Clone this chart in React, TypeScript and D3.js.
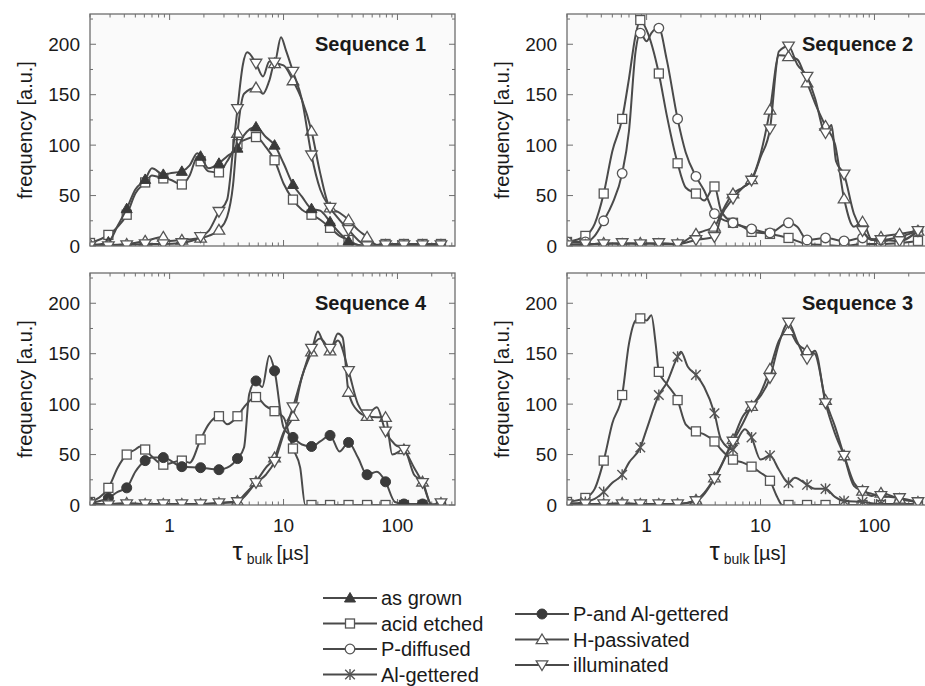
import React from 'react';
import * as d3 from 'd3';

type Pt = [number, number];

// marker positions (x values where symbols are drawn)
const GRID = [0.2, 0.29, 0.42, 0.61, 0.88, 1.28, 1.87, 2.71, 3.94, 5.73, 8.34, 12.1, 17.6, 25.6, 37.2, 54.1, 78.6, 114, 166, 241];
const X_TICK_LABELS = [1, 10, 100];
const Y_TICKS = [0, 50, 100, 150, 200];
const Y_MINOR = [25, 75, 125, 175, 225];

// ---------- Sequence 1 ----------
const s1AsGrown: Pt[] = [[0.2,0],[0.29,4],[0.35,20],[0.42,37],[0.5,56],[0.61,66],[0.7,77],[0.88,71],[1.0,72],[1.28,74],[1.5,80],[1.75,92],[1.87,89],[2.2,77],[2.71,82],[3.2,89],[3.94,97],[4.5,110],[5.73,118],[7,108],[8.34,100],[10,82],[12.1,61],[14.5,49],[17.6,37],[21,35],[25.6,24],[31,13],[37.2,5],[45,1],[54.1,0],[78.6,0],[114,0],[166,0],[241,0]];
const s1Acid: Pt[] = [[0.2,3],[0.29,11],[0.35,19],[0.42,31],[0.5,52],[0.61,63],[0.7,70],[0.88,67],[1.0,66],[1.28,61],[1.5,70],[1.75,88],[1.87,84],[2.2,74],[2.71,73],[3.2,84],[3.94,101],[4.5,105],[5.73,108],[7,98],[8.34,85],[10,62],[12.1,46],[14.5,36],[17.6,31],[21,26],[25.6,18],[31,10],[37.2,6],[45,1],[54.1,0],[78.6,2],[114,2],[166,2],[241,2]];
const s1HPass: Pt[] = [[0.2,2],[0.29,1],[0.42,2],[0.61,5],[0.88,9],[1.0,5],[1.28,6],[1.87,8],[2.2,10],[2.71,16],[3.2,29],[3.6,60],[3.94,112],[4.5,151],[5.73,157],[6.6,151],[7.5,164],[8.34,181],[10,179],[12.1,164],[14.5,145],[17.6,114],[21,72],[25.6,38],[31,33],[37.2,26],[45,16],[54.1,9],[66,1],[78.6,1],[114,1],[166,1],[241,1]];
const s1Illum: Pt[] = [[0.2,0],[0.29,0],[0.42,1],[0.61,2],[0.88,2],[1.28,3],[1.87,9],[2.2,15],[2.71,34],[3.2,46],[3.6,95],[3.94,136],[4.4,180],[4.8,192],[5.73,181],[6.6,168],[7.5,183],[8.34,182],[9.5,207],[10.5,194],[12.1,173],[14.5,145],[17.6,90],[21,56],[25.6,38],[31,26],[37.2,16],[45,6],[54.1,0],[78.6,1],[114,1],[166,1],[241,1]];

// ---------- Sequence 2 ----------
const s2Acid: Pt[] = [[0.2,4],[0.29,10],[0.35,22],[0.42,52],[0.5,94],[0.61,126],[0.7,166],[0.8,209],[0.88,224],[1.0,214],[1.28,171],[1.5,130],[1.87,82],[2.2,58],[2.71,52],[3.2,45],[3.94,59],[4.5,35],[5.73,23],[7,19],[8.34,14],[12.1,12],[17.6,8],[25.6,2],[37.2,1],[54.1,0],[78.6,2],[114,2],[166,3],[241,5]];
const s2PDiff: Pt[] = [[0.2,4],[0.29,4],[0.35,10],[0.42,25],[0.5,42],[0.61,72],[0.7,114],[0.8,193],[0.88,211],[1.0,203],[1.1,211],[1.28,216],[1.5,185],[1.87,126],[2.2,93],[2.71,69],[3.2,55],[3.94,32],[4.5,27],[5.73,23],[8.34,17],[12.1,13],[17.6,23],[21,19],[25.6,6],[37.2,8],[54.1,5],[78.6,8],[114,6],[166,9],[241,15]];
const s2HPass: Pt[] = [[0.2,2],[0.29,1],[0.42,3],[0.61,2],[0.88,3],[1.28,2],[1.87,2],[2.71,12],[3.2,15],[3.94,19],[4.5,32],[5.73,52],[7,58],[8.34,66],[10,91],[12.1,135],[14.5,189],[17.6,188],[21,185],[25.6,162],[30,142],[37.2,119],[45,101],[54.1,47],[66,19],[78.6,24],[95,6],[114,9],[166,12],[241,15]];
const s2Illum: Pt[] = [[0.2,1],[0.29,2],[0.42,2],[0.61,3],[0.88,2],[1.28,3],[1.87,2],[2.71,6],[3.94,9],[4.5,29],[5.73,47],[7,58],[8.34,65],[10,88],[12.1,116],[14.5,193],[17.6,198],[21,180],[25.6,168],[30,147],[37.2,112],[42,120],[46,84],[54.1,71],[66,32],[78.6,15],[95,6],[114,6],[166,5],[241,15]];

// ---------- Sequence 4 ----------
const s4Acid: Pt[] = [[0.2,3],[0.29,17],[0.35,37],[0.42,50],[0.5,55],[0.55,58],[0.61,55],[0.7,48],[0.88,40],[1.28,44],[1.5,42],[1.87,65],[2.2,80],[2.71,88],[3.2,80],[3.94,88],[4.5,97],[5.73,107],[7,98],[8.34,93],[10,87],[12.1,56],[14,37],[15.5,0],[17.6,0],[25.6,0],[37.2,0],[54.1,0],[78.6,0],[114,0],[166,0],[241,0]];
const s4PAl: Pt[] = [[0.2,2],[0.29,7],[0.35,13],[0.42,17],[0.5,33],[0.61,44],[0.7,47],[0.88,47],[1.28,38],[1.87,37],[2.71,35],[3.2,37],[3.94,46],[4.5,57],[5.0,110],[5.73,123],[6.5,117],[7.5,148],[8.34,133],[10,77],[12.1,67],[14.5,60],[17.6,58],[21,63],[25.6,69],[31,53],[37.2,62],[45,47],[54.1,30],[66,33],[78.6,23],[95,3],[114,1],[166,1],[241,0]];
const s4HPass: Pt[] = [[0.2,1],[0.29,1],[0.42,2],[0.61,1],[0.88,1],[1.28,1],[1.87,1],[2.71,2],[3.94,4],[4.5,10],[5.73,23],[7,37],[8.34,47],[10,72],[12.1,88],[14.5,127],[17.6,152],[20,172],[22,163],[25.6,153],[30,170],[33,166],[37.2,112],[45,93],[54.1,88],[66,87],[78.6,87],[90,50],[114,55],[140,30],[166,23],[200,0],[241,2]];
const s4Illum: Pt[] = [[0.2,1],[0.29,0],[0.42,1],[0.61,1],[0.88,1],[1.28,1],[1.87,1],[2.71,2],[3.94,3],[4.5,8],[5.73,22],[7,30],[8.34,43],[10,70],[12.1,97],[14.5,127],[17.6,155],[21,165],[25.6,155],[30,163],[37.2,133],[45,100],[54.1,90],[66,97],[78.6,73],[95,60],[114,55],[140,37],[166,22],[200,0],[241,2]];

// ---------- Sequence 3 ----------
const s3Acid: Pt[] = [[0.2,3],[0.29,7],[0.35,16],[0.42,44],[0.5,81],[0.61,109],[0.7,160],[0.8,183],[0.88,185],[1.0,183],[1.1,188],[1.2,160],[1.28,132],[1.5,120],[1.87,104],[2.2,80],[2.71,73],[3.2,70],[3.94,63],[4.5,55],[5.73,45],[7,42],[8.34,38],[10,32],[12.1,24],[14,8],[15.5,0],[17.6,0],[25.6,0],[37.2,0],[54.1,0],[78.6,0],[114,0],[166,0],[241,0]];
const s3AlG: Pt[] = [[0.2,1],[0.29,3],[0.35,6],[0.42,13],[0.5,22],[0.61,30],[0.7,42],[0.88,57],[1.0,75],[1.28,109],[1.5,121],[1.87,147],[2.0,152],[2.3,137],[2.71,129],[3.2,117],[3.94,91],[4.5,65],[5.73,55],[6.5,68],[7.3,75],[8.34,67],[10,45],[12.1,49],[14.5,35],[17.6,22],[20,27],[25.6,20],[30,16],[37.2,16],[45,8],[54.1,4],[78.6,3],[114,1],[166,1],[241,1]];
const s3HPass: Pt[] = [[0.2,2],[0.29,1],[0.42,1],[0.61,2],[0.88,1],[1.28,1],[1.87,1],[2.71,5],[3.2,12],[3.94,27],[4.5,39],[5.73,65],[7,88],[8.34,98],[10,111],[12.1,135],[14.5,163],[17.6,173],[21,160],[25.6,153],[30,150],[37.2,104],[45,78],[54.1,49],[66,19],[78.6,14],[95,9],[114,12],[166,6],[241,3]];
const s3Illum: Pt[] = [[0.2,1],[0.29,1],[0.42,1],[0.61,1],[0.88,1],[1.28,1],[1.87,1],[2.71,4],[3.94,26],[5.73,63],[7,81],[8.34,98],[10,108],[12.1,126],[14.5,160],[17.6,181],[21,162],[25.6,145],[30,153],[37.2,101],[45,71],[54.1,49],[66,22],[78.6,14],[95,11],[114,9],[166,7],[241,3]];

const LEGEND_LEFT = ['as grown', 'acid etched', 'P-diffused', 'Al-gettered'];
const LEGEND_RIGHT = ['P-and Al-gettered', 'H-passivated', 'illuminated'];
const LEGEND_LEFT_KEYS = ['asGrown', 'acid', 'pDiff', 'alG'];
const LEGEND_RIGHT_KEYS = ['pAl', 'hPass', 'illum'];

type Series = { key: string; data: Pt[] };
type Panel = { title: string; col: number; row: number; series: Series[] };

const PANELS: Panel[] = [
  { title: 'Sequence 1', col: 0, row: 0, series: [
    { key: 'acid', data: s1Acid }, { key: 'asGrown', data: s1AsGrown },
    { key: 'hPass', data: s1HPass }, { key: 'illum', data: s1Illum } ] },
  { title: 'Sequence 2', col: 1, row: 0, series: [
    { key: 'acid', data: s2Acid }, { key: 'pDiff', data: s2PDiff },
    { key: 'hPass', data: s2HPass }, { key: 'illum', data: s2Illum } ] },
  { title: 'Sequence 4', col: 0, row: 1, series: [
    { key: 'acid', data: s4Acid }, { key: 'pAl', data: s4PAl },
    { key: 'hPass', data: s4HPass }, { key: 'illum', data: s4Illum } ] },
  { title: 'Sequence 3', col: 1, row: 1, series: [
    { key: 'acid', data: s3Acid }, { key: 'alG', data: s3AlG },
    { key: 'hPass', data: s3HPass }, { key: 'illum', data: s3Illum } ] },
];

const LINE = '#4a4a4a';
const MSTROKE = '#555';
const MFILL = '#3a3a3a';
const FONT = 'Liberation Sans, Arial, sans-serif';

function Marker({ k, x, y }: { k: string; x: number; y: number }) {
  const sw = 1.3;
  switch (k) {
    case 'asGrown':
      return <path d={`M${x},${y - 5.5}L${x + 5.5},${y + 4}L${x - 5.5},${y + 4}Z`} fill={MFILL} stroke={MFILL} strokeWidth={1} />;
    case 'acid':
      return <rect x={x - 4.5} y={y - 4.5} width={9} height={9} fill="#fff" stroke={MSTROKE} strokeWidth={sw} />;
    case 'pDiff':
      return <circle cx={x} cy={y} r={4.8} fill="#fff" stroke={MSTROKE} strokeWidth={sw} />;
    case 'pAl':
      return <circle cx={x} cy={y} r={5} fill={MFILL} stroke={MFILL} strokeWidth={1} />;
    case 'alG':
      return <path d={`M${x},${y - 5.5}V${y + 5.5}M${x - 4.8},${y - 4.8}L${x + 4.8},${y + 4.8}M${x - 4.8},${y + 4.8}L${x + 4.8},${y - 4.8}`} stroke={MSTROKE} strokeWidth={1.4} fill="none" />;
    case 'hPass':
      return <path d={`M${x},${y - 5.5}L${x + 5.8},${y + 4.2}L${x - 5.8},${y + 4.2}Z`} fill="#fff" stroke={MSTROKE} strokeWidth={sw} />;
    case 'illum':
      return <path d={`M${x},${y + 5.5}L${x + 5.8},${y - 4.2}L${x - 5.8},${y - 4.2}Z`} fill="#fff" stroke={MSTROKE} strokeWidth={sw} />;
  }
  return null;
}

const PW = 365, PH = 232;
const X0 = [90, 567];
const Y0 = [14, 273];
const TITLE_DX = [225, 235];

function PanelView({ p, idx }: { p: Panel; idx: number }) {
  const left = X0[p.col];
  const top = Y0[p.row];
  const x = d3.scaleLog().domain([0.2, 320]).range([left, left + PW]);
  const y = d3.scaleLinear().domain([0, 230]).range([top + PH, top]);
  const line = d3.line<Pt>().x(d => x(d[0])).y(d => y(d[1])).curve(d3.curveMonotoneX);
  const clipId = `clip${idx}`;
  const xt = x.ticks();
  const bottom = top + PH;
  const right = left + PW;
  const isMajor = (v: number) => Math.abs(Math.log10(v) - Math.round(Math.log10(v))) < 1e-6;
  return (
    <g>
      <defs>
        <clipPath id={clipId}><rect x={left} y={top} width={PW} height={PH} /></clipPath>
      </defs>
      <rect x={left} y={top} width={PW} height={PH} fill="#fafafa" />
      {/* y ticks */}
      {Y_TICKS.map(v => (
        <g key={'y' + v}>
          <line x1={left} x2={left + 6} y1={y(v)} y2={y(v)} stroke="#6e6e6e" strokeWidth={1} />
          <line x1={right} x2={right - 6} y1={y(v)} y2={y(v)} stroke="#6e6e6e" strokeWidth={1} />
          <text x={left - 10} y={y(v)} dy="0.35em" textAnchor="end" fontSize={19} fontFamily={FONT} fill="#1a1a1a">{v}</text>
        </g>
      ))}
      {Y_MINOR.map(v => (
        <g key={'ym' + v}>
          <line x1={left} x2={left + 3} y1={y(v)} y2={y(v)} stroke="#6e6e6e" strokeWidth={1} />
          <line x1={right} x2={right - 3} y1={y(v)} y2={y(v)} stroke="#6e6e6e" strokeWidth={1} />
        </g>
      ))}
      {/* x ticks */}
      {xt.map((v, i) => {
        const L = isMajor(v) ? 6 : 3.5;
        return (
          <g key={'x' + i}>
            <line x1={x(v)} x2={x(v)} y1={bottom} y2={bottom - L} stroke="#6e6e6e" strokeWidth={1} />
            <line x1={x(v)} x2={x(v)} y1={top} y2={top + L} stroke="#6e6e6e" strokeWidth={1} />
          </g>
        );
      })}
      {p.row === 1 && X_TICK_LABELS.map(v => (
        <text key={'xl' + v} x={x(v)} y={bottom + 27} textAnchor="middle" fontSize={19} fontFamily={FONT} fill="#1a1a1a">{v}</text>
      ))}
      {/* series */}
      <g clipPath={`url(#${clipId})`}>
        {p.series.map(s => (
          <g key={s.key}>
            <path d={line(s.data) || ''} fill="none" stroke={LINE} strokeWidth={2} />
            {s.data.filter(d => GRID.includes(d[0])).map((d, i) => (
              <Marker key={i} k={s.key} x={x(d[0])} y={y(d[1])} />
            ))}
          </g>
        ))}
      </g>
      <rect x={left} y={top} width={PW} height={PH} fill="none" stroke="#6e6e6e" strokeWidth={1.3} />
      <text x={left + TITLE_DX[p.col]} y={top + 37} fontSize={20} fontWeight="bold" fontFamily={FONT} fill="#1a1a1a">{p.title}</text>
      <text transform={`translate(${left - 65},${top + PH / 2}) rotate(-90)`} textAnchor="middle" dy="0.35em" fontSize={20} fontFamily={FONT} fill="#1a1a1a">frequency [a.u.]</text>
      {p.row === 1 && (
        <text x={left + PW / 2 - 40} y={bottom + 55} fontFamily={FONT} fill="#1a1a1a">
          <tspan fontSize={26}>τ</tspan>
          <tspan fontSize={14} dx={4} dy={4}>bulk</tspan>
          <tspan fontSize={20} dx={4} dy={-4}>[µs]</tspan>
        </text>
      )}
    </g>
  );
}

function LegendEntry({ k, label, x0, yc }: { k: string; label: string; x0: number; yc: number }) {
  return (
    <g>
      <line x1={x0} x2={x0 + 54} y1={yc} y2={yc} stroke={LINE} strokeWidth={2} />
      <Marker k={k} x={x0 + 27} y={yc} />
      <text x={x0 + 58} y={yc} dy="0.35em" fontSize={20} fontFamily={FONT} fill="#1a1a1a">{label}</text>
    </g>
  );
}

export default function App() {
  return (
    <svg width={925} height={686} style={{ position: 'absolute', left: 0, top: 0, background: '#fff' }}>
      <rect width={925} height={686} fill="#fff" />
      {PANELS.map((p, i) => <PanelView key={p.title} p={p} idx={i} />)}
      {LEGEND_LEFT.map((l, i) => (
        <LegendEntry key={l} k={LEGEND_LEFT_KEYS[i]} label={l} x0={323} yc={598 + i * 25.5} />
      ))}
      {LEGEND_RIGHT.map((l, i) => (
        <LegendEntry key={l} k={LEGEND_RIGHT_KEYS[i]} label={l} x0={515} yc={614 + i * 25.5} />
      ))}
    </svg>
  );
}
